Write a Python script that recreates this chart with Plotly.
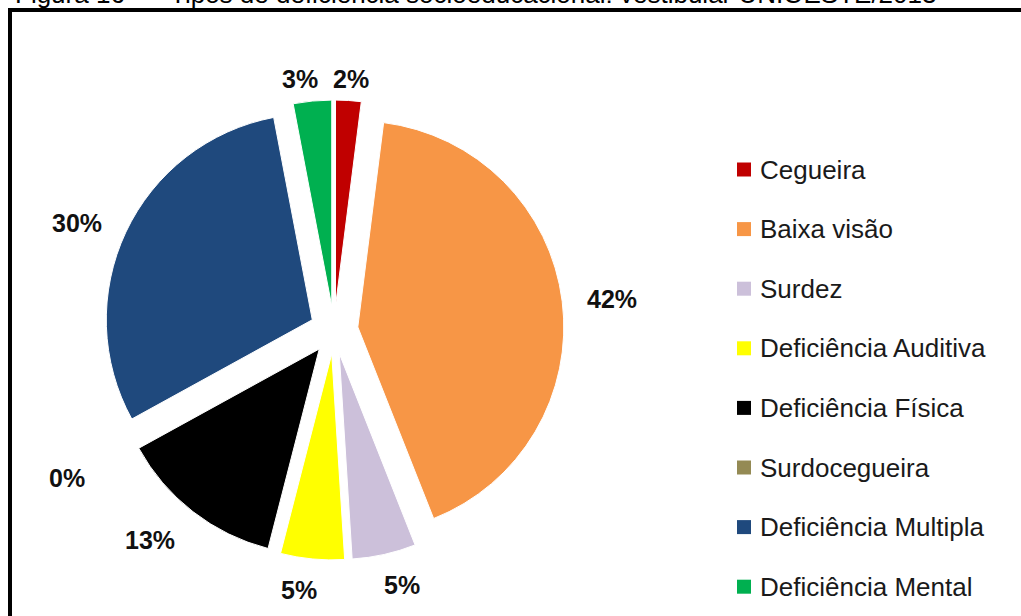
import math
import plotly.graph_objects as go

# Tipos de deficiência declarados (percentual)
categories = [
    "Cegueira",
    "Baixa visão",
    "Surdez",
    "Deficiência Auditiva",
    "Deficiência Física",
    "Surdocegueira",
    "Deficiência Multipla",
    "Deficiência Mental",
]
values = [2, 42, 5, 5, 13, 0, 30, 3]
colors = ["#C00000", "#F79646", "#CCC0DA", "#FFFF00", "#000000", "#948A54", "#1F497D", "#00B050"]

W, H = 1021, 616
FONT = "Liberation Sans, Arial, sans-serif"

# pie placement (pixels)
cx, cy = 334, 330
radius = 206
pull = 0.1165
half_box = radius * (1 + pull)

# small per-label nudges (pixels) so the outside labels clear each other
label_nudge = [(0, 5), (7, 1), (10, 4), (-10, 4), (-17, 7), (-34, 24), (-10, 2), (-9, 5)]


def px_x(x):
    return x / W


def px_y(y):
    return 1 - y / H


fig = go.Figure(
    go.Pie(
        labels=categories,
        values=values,
        sort=False,
        direction="clockwise",
        rotation=0,
        pull=[pull] * len(values),
        marker=dict(colors=colors, line=dict(color="white", width=1)),
        textinfo="none",
        showlegend=False,
        domain=dict(
            x=[px_x(cx - half_box), px_x(cx + half_box)],
            y=[px_y(cy + half_box), px_y(cy - half_box)],
        ),
    )
)

annotations = []
shapes = []

# percentage labels placed radially outside each slice
label_size = 25
gap = 18
total = sum(values)
cum = 0
for v, (nx, ny) in zip(values, label_nudge):
    mid = (cum + v / 2) / total * 2 * math.pi
    cum += v
    dx, dy = math.sin(mid), -math.cos(mid)
    txt = f"{v}%"
    w = (0.556 * (len(txt) - 1) + 0.889) * label_size
    h = 0.72 * label_size
    dist = radius * (1 + pull) + gap
    lx = cx + dx * dist + dx * w / 2 + nx
    ly = cy + dy * dist + dy * h / 2 + ny
    annotations.append(dict(
        x=px_x(lx), y=px_y(ly), xref="paper", yref="paper",
        text=f"<b>{txt}</b>", showarrow=False,
        xanchor="center", yanchor="middle",
        font=dict(family=FONT, size=label_size, color="#111111"),
    ))

# legend drawn as swatches and text
leg_x0, leg_y0, leg_step, sw = 737, 169.5, 59.6, 14
for i, (name, col) in enumerate(zip(categories, colors)):
    yc = leg_y0 + i * leg_step
    shapes.append(dict(
        type="rect", xref="paper", yref="paper",
        x0=px_x(leg_x0), x1=px_x(leg_x0 + sw),
        y0=px_y(yc + sw / 2), y1=px_y(yc - sw / 2),
        fillcolor=col, line=dict(width=0),
    ))
    annotations.append(dict(
        x=px_x(leg_x0 + sw + 7), y=px_y(yc), xref="paper", yref="paper",
        text=name, showarrow=False, xanchor="left", yanchor="middle",
        font=dict(family=FONT, size=26, color="#1a1a1a"),
    ))

# caption line above the frame (partly outside the page)
caption = [
    (13, "left", "Figura 16"),
    (141, "center", "—"),
    (168, "left", "Tipos de deficiência socioeducacional: vestibular UNIOESTE/2013"),
]
for x, anchor, txt in caption:
    annotations.append(dict(
        x=px_x(x), y=px_y(11), xref="paper", yref="paper",
        text=txt, showarrow=False, xanchor=anchor, yanchor="bottom",
        font=dict(family=FONT, size=26, color="#000000"),
    ))

# frame
shapes.append(dict(type="line", xref="paper", yref="paper",
                   x0=px_x(8), x1=1.0, y0=px_y(10), y1=px_y(10),
                   line=dict(color="black", width=4)))
shapes.append(dict(type="line", xref="paper", yref="paper",
                   x0=px_x(10), x1=px_x(10), y0=px_y(8), y1=0.0,
                   line=dict(color="black", width=4)))

fig.update_layout(
    width=W, height=H,
    margin=dict(l=0, r=0, t=0, b=0),
    paper_bgcolor="white", plot_bgcolor="white",
    annotations=annotations, shapes=shapes,
)

fig.write_html("out.html")
